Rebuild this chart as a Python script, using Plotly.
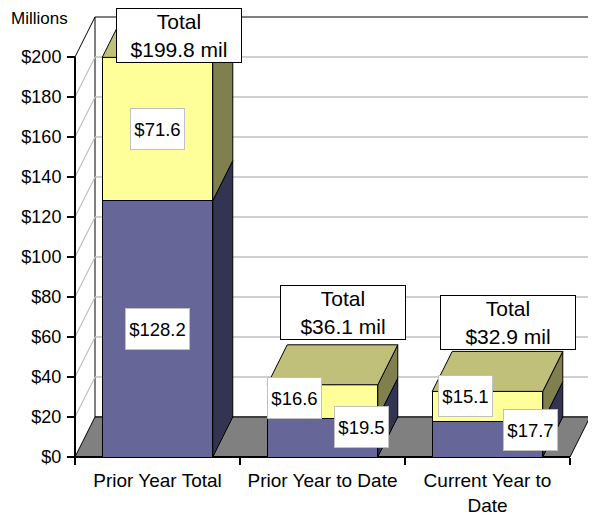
import plotly.graph_objects as go

# ---------------- data ----------------
categories = ["Prior Year Total", "Prior Year to Date", "Current Year to<br>Date"]
base_values = [128.2, 19.5, 17.7]      # blue (bottom) segment
top_values = [71.6, 16.6, 15.1]        # yellow (top) segment
total_labels = [199.8, 36.1, 32.9]     # totals as printed
y_ticks = [0, 20, 40, 60, 80, 100, 120, 140, 160, 180, 200]
y_tick_text = ["$" + str(v) for v in y_ticks]

# ---------------- styles / geometry ----------------
FONT = "Liberation Sans, Arial, sans-serif"
BLUE_FRONT, BLUE_SIDE = "#666699", "#333352"
YEL_FRONT, YEL_SIDE, YEL_TOP = "#FFFF99", "#80804F", "#C0C07B"
FLOOR = "#808080"
GRID = "#C0C0C0"
BAR_W = 0.67
PX_PER_X = 165.0
DX = 20 / PX_PER_X      # depth offset in x units
DY = 20.0               # depth offset in y units
YMAX = 200
PADX = 3 / PX_PER_X
PADY = 1.5

# label placement (pixel shifts)
base_shift = [(0, 0), (39, 11), (43, 9)]
top_shift = [(0, 0), (-28, 3), (-22, 11)]
base_box_w = [65, 55, 55]
top_box_w = [55, 55, 55]
total_shift = [(21, 22), (20, 72), (20, 69)]
total_box_w = [126, 126, 136]

x_pos = list(range(len(categories)))
xr = [-0.5 - PADX, len(categories) - 0.5 + DX + PADX]
yr = [-PADY, YMAX + DY + PADY]

fig = go.Figure()

# front faces as stacked bars
fig.add_trace(go.Bar(x=x_pos, y=base_values, width=BAR_W, marker=dict(color=BLUE_FRONT, line=dict(color="black", width=1)),
                     hoverinfo="skip", showlegend=False))
fig.add_trace(go.Bar(x=x_pos, y=top_values, width=BAR_W, marker=dict(color=YEL_FRONT, line=dict(color="black", width=1)),
                     hoverinfo="skip", showlegend=False))


def poly(xs, ys, color):
    fig.add_trace(go.Scatter(x=xs + [xs[0]], y=ys + [ys[0]], mode="lines", fill="toself", fillcolor=color,
                             line=dict(color="black", width=1), hoverinfo="skip", showlegend=False))


# side and top faces derived from the data
for i, (b, t) in enumerate(zip(base_values, top_values)):
    xr_edge = i + BAR_W / 2
    xl_edge = i - BAR_W / 2
    segs = [(0, b, BLUE_SIDE), (b, b + t, YEL_SIDE)]
    for lo, hi, col in segs:
        poly([xr_edge, xr_edge + DX, xr_edge + DX, xr_edge], [lo, lo + DY, hi + DY, hi], col)
    top = b + t
    poly([xl_edge, xr_edge, xr_edge + DX, xl_edge + DX], [top, top, top + DY, top + DY], YEL_TOP)

# walls, floor, gridlines as background shapes
shapes = []
x0, x1 = -0.5, len(categories) - 0.5
shapes.append(dict(type="rect", xref="x", yref="y", x0=x0 + DX, x1=x1 + DX, y0=DY, y1=YMAX + DY,
                   fillcolor="white", line=dict(color="black", width=1), layer="below"))
for v in y_ticks[1:-1]:
    shapes.append(dict(type="line", xref="x", yref="y", x0=x0 + DX, x1=x1 + DX, y0=v + DY, y1=v + DY,
                       line=dict(color=GRID, width=1.3), layer="below"))
    shapes.append(dict(type="line", xref="x", yref="y", x0=x0, x1=x0 + DX, y0=v, y1=v + DY,
                       line=dict(color=GRID, width=1.3), layer="below"))
shapes.append(dict(type="path", xref="x", yref="y",
                   path=f"M {x0},0 L {x1},0 L {x1 + DX},{DY} L {x0 + DX},{DY} Z",
                   fillcolor=FLOOR, line=dict(color="black", width=1), layer="below"))
shapes.append(dict(type="line", xref="x", yref="y", x0=x0, x1=x0 + DX, y0=YMAX, y1=YMAX + DY,
                   line=dict(color="black", width=1), layer="below"))
shapes.append(dict(type="line", xref="x", yref="y", x0=x0, x1=x1, y0=0, y1=0,
                   line=dict(color="black", width=2), layer="below"))
shapes.append(dict(type="line", xref="x", yref="y", x0=x0, x1=x0, y0=0, y1=YMAX,
                   line=dict(color="black", width=2), layer="below"))

annotations = []
for i, (b, t) in enumerate(zip(base_values, top_values)):
    annotations.append(dict(x=i, y=b / 2, xref="x", yref="y", text=f"${b:.1f}", showarrow=False,
                            xshift=base_shift[i][0], yshift=base_shift[i][1],
                            font=dict(family=FONT, size=18.5, color="black"), bgcolor="white",
                            bordercolor=GRID, borderwidth=1, borderpad=0, width=base_box_w[i] - 2, height=40))
    annotations.append(dict(x=i, y=b + t / 2, xref="x", yref="y", text=f"${t:.1f}", showarrow=False,
                            xshift=top_shift[i][0], yshift=top_shift[i][1],
                            font=dict(family=FONT, size=18.5, color="black"), bgcolor="white",
                            bordercolor=GRID, borderwidth=1, borderpad=0, width=top_box_w[i] - 2, height=40))
    annotations.append(dict(x=i, y=b + t, xref="x", yref="y", text=f"Total<br>${total_labels[i]:.1f} mil",
                            showarrow=False, xshift=total_shift[i][0], yshift=total_shift[i][1],
                            font=dict(family=FONT, size=21, color="black"), bgcolor="white",
                            bordercolor="black", borderwidth=1, borderpad=0, width=total_box_w[i] - 2, height=53))
annotations.append(dict(x=0, y=1, xref="paper", yref="paper", text="Millions", showarrow=False,
                        xanchor="right", yanchor="middle", xshift=-2, yshift=-4,
                        font=dict(family=FONT, size=17, color="black")))

# the page body adds an 8px margin, so the figure is sized to fit 596x516 after that offset
fig.update_layout(
    width=588, height=508,
    margin=dict(l=64, r=3, t=6, b=56, autoexpand=False),
    paper_bgcolor="white", plot_bgcolor="white",
    barmode="stack",
    shapes=shapes, annotations=annotations,
    font=dict(family=FONT, size=18, color="black"),
    xaxis=dict(range=xr, tickmode="array", tickvals=x_pos, ticktext=categories, ticks="",
               showgrid=False, zeroline=False, showline=False, anchor="free", automargin=False,
               position=PADY / (yr[1] - yr[0]), ticklabelstandoff=10,
               tickfont=dict(family=FONT, size=19, color="black"),
               minor=dict(tickmode="array", tickvals=[v - 0.5 for v in x_pos] + [x_pos[-1] + 0.5],
                          ticks="outside", ticklen=7, tickwidth=2, tickcolor="black", showgrid=False)),
    yaxis=dict(range=yr, tickmode="array", tickvals=y_ticks, ticktext=y_tick_text, ticks="outside",
               ticklen=8, tickwidth=2, tickcolor="black", showgrid=False, zeroline=False, showline=False,
               anchor="free", automargin=False, position=PADX / (xr[1] - xr[0]), ticklabelstandoff=2,
               tickfont=dict(family=FONT, size=18, color="black")),
)

fig.write_html("out.html")
